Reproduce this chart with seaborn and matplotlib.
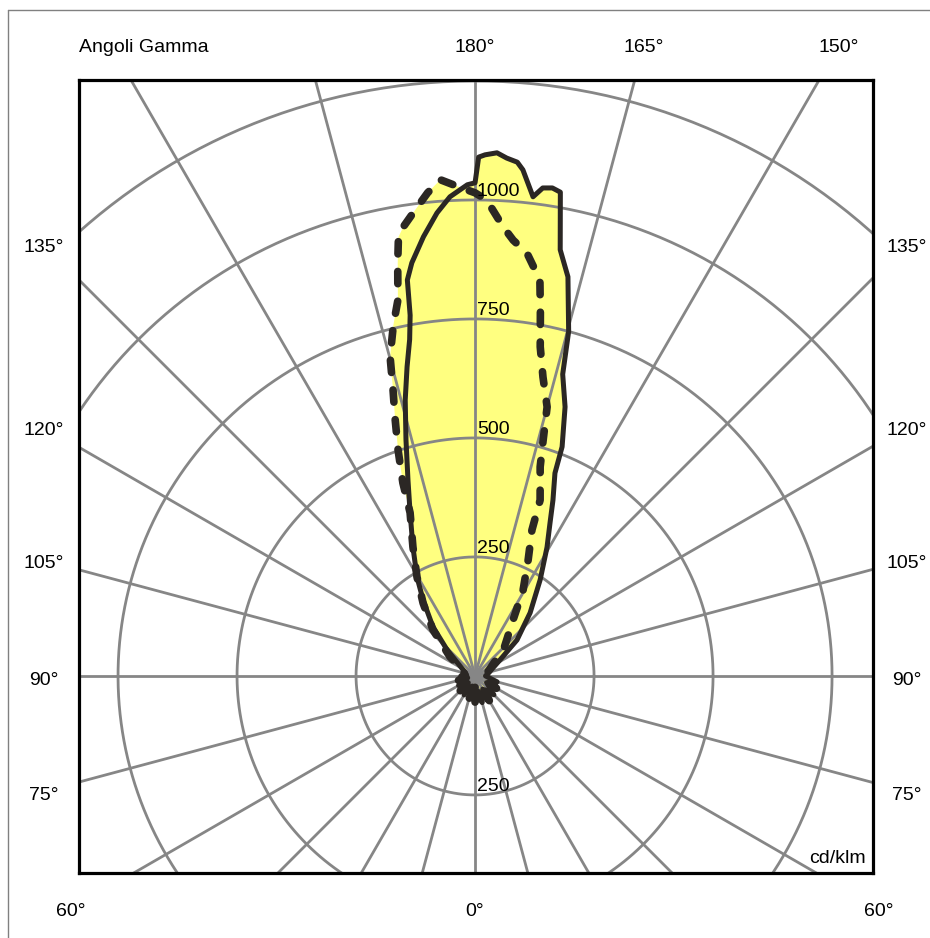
import numpy as np
import pandas as pd
import matplotlib
matplotlib.use("Agg")
import matplotlib.pyplot as plt
import seaborn as sns
from matplotlib.lines import Line2D

# polar intensity curve, gamma in degrees (0 = down, 180 = up), values in cd/klm
# solid curve: C0 (right half) / C180 (left half)
c0_gamma = [0, 15, 30, 45, 60, 75, 90, 104, 122.6, 130.6, 138.9, 145.9, 150.8, 153.9,
            156.1, 158.5, 159.2, 161.5, 163.8, 164.8, 166.9, 168.7, 170.0, 171.0,
            172.1, 173.1, 174.6, 175.3, 176.5, 177.6, 178.9, 179.6, 180]
c0_cd = [36, 58, 32, 56, 28, 48, 22, 30, 62, 116, 176, 244, 310, 358,
         404, 458, 515, 596, 660, 750, 861, 913, 1032, 1038,
         1035, 1014, 1068, 1083, 1090, 1100, 1095, 1090, 1036]

c180_gamma = [0, 15, 30, 45, 60, 75, 90, 105, 117, 133, 139.4, 145.6, 149.6, 154.3,
              158.3, 161.1, 163.7, 165.8, 167.6, 169.0, 169.8, 170.3, 171.3, 173.3,
              175.3, 177.0, 179.1, 180]
c180_cd = [48, 22, 46, 20, 40, 16, 30, 20, 28, 80, 136, 193, 241, 301,
           369, 435, 517, 598, 665, 720, 770, 844, 878, 929,
           976, 1008, 1032, 1036]

# dashed curve: C90 (right half) / C270 (left half)
c90_gamma = [0, 15, 30, 45, 60, 75, 90, 104, 134, 145.8, 150.8, 155.4, 158.7, 159.7,
             162.7, 163.9, 165.0, 167.2, 168.8, 169.8, 170.7, 173.0, 175.0, 176.4,
             178.6, 180]
c90_cd = [55, 28, 60, 24, 52, 26, 34, 26, 85, 142, 207, 268, 329, 394,
          460, 516, 585, 644, 705, 775, 843, 895, 919, 945,
          1000, 1015]

c270_gamma = [0, 15, 30, 45, 60, 75, 90, 105, 117, 127.2, 137.6, 144.5, 149.6, 154.3,
              158.3, 159.5, 161.2, 162.8, 164.0, 165.1, 166.9, 168.4, 169.4, 170.1,
              170.9, 173.0, 174.4, 176.0, 178.5, 180]
c270_cd = [24, 50, 22, 44, 18, 36, 20, 24, 28, 66, 131, 188, 241, 301,
           369, 433, 502, 569, 625, 694, 757, 806, 883, 936,
           955, 993, 1020, 1045, 1025, 1015]

rings = [250, 500, 750, 1000, 1250]
ring_labels = ["250", "500", "750", "1000"]
left_labels = ["135°", "120°", "105°", "90°", "75°"]
top_labels = ["180°", "165°", "150°"]
bottom_labels = ["60°", "0°", "60°"]


def to_xy(gamma, cd, side):
    a = np.radians(180 - np.asarray(gamma, float))
    r = np.asarray(cd, float)
    return side * r * np.sin(a), r * np.cos(a)


def closed_curve(g_left, v_left, g_right, v_right):
    xl, yl = to_xy(g_left, v_left, -1)
    xr, yr = to_xy(g_right[::-1], v_right[::-1], 1)
    return pd.DataFrame({"x": np.r_[xl, xr], "y": np.r_[yl, yr]})


solid = closed_curve(c180_gamma, c180_cd, c0_gamma, c0_cd)
dashed = closed_curve(c270_gamma, c270_cd, c90_gamma, c90_cd)

sns.set_style("white")
plt.rcParams["font.family"] = ["Liberation Sans", "DejaVu Sans"]
plt.rcParams["text.color"] = "black"

W, H = 930, 938
fig = plt.figure(figsize=(W / 100, H / 100), dpi=100)
ax = fig.add_axes([79 / W, 65 / H, 794 / W, 793 / H])
ax.set_xlim(-832, 836)
ax.set_ylim(-414, 1252)

grey = "#868686"
ink = "#2b2724"

ax.fill(dashed["x"], dashed["y"], color="#ffff80", lw=0, zorder=1)
ax.fill(solid["x"], solid["y"], color="#ffff80", lw=0, zorder=1)

t = np.linspace(0, 2 * np.pi, 500)
for r in rings:
    ax.plot(r * np.cos(t), r * np.sin(t), color=grey, lw=2, zorder=2)
for ang in range(0, 360, 15):
    a = np.radians(ang)
    ax.plot([0, 3000 * np.sin(a)], [0, 3000 * np.cos(a)], color=grey, lw=2, zorder=2)

sns.lineplot(data=solid, x="x", y="y", sort=False, estimator=None, color=ink,
             lw=3.6, solid_joinstyle="round", ax=ax, zorder=4)
sns.lineplot(data=dashed, x="x", y="y", sort=False, estimator=None, color=ink,
             lw=5.5, linestyle=(0, (1.6, 2.3)), dash_capstyle="round", ax=ax, zorder=5)

for r, lab in zip(rings, ring_labels):
    ax.text(4, r + 9, lab, ha="left", va="baseline", fontsize=14, color="black", zorder=6)
ax.text(4, -250 + 9, "250", ha="left", va="baseline", fontsize=14, color="black", zorder=6)

ax.set_xticks([])
ax.set_yticks([])
ax.set_xlabel("")
ax.set_ylabel("")
for s in ax.spines.values():
    s.set_color("black")
    s.set_linewidth(2.3)
    s.set_zorder(7)


def px(x, y):
    return x / W, 1 - y / H


fig.text(*px(79, 52), "Angoli Gamma", ha="left", va="baseline", fontsize=14)
for x, lab in zip([475, 644, 839], top_labels):
    fig.text(*px(x, 52), lab, ha="center", va="baseline", fontsize=14)
for y, lab in zip([252, 435, 568, 685, 800], left_labels):
    fig.text(*px(44, y), lab, ha="center", va="baseline", fontsize=14)
    fig.text(*px(907, y), lab, ha="center", va="baseline", fontsize=14)
for x, lab in zip([71, 475, 879], bottom_labels):
    fig.text(*px(x, 916), lab, ha="center", va="baseline", fontsize=14)
fig.text(*px(866, 863), "cd/klm", ha="right", va="baseline", fontsize=14)

# outer frame
fig.add_artist(Line2D([8 / W, 8 / W], [0, 1 - 10 / H], color="#808080", lw=1))
fig.add_artist(Line2D([8 / W, 1], [1 - 10 / H, 1 - 10 / H], color="#808080", lw=1))

fig.savefig("out.png", dpi=100)
